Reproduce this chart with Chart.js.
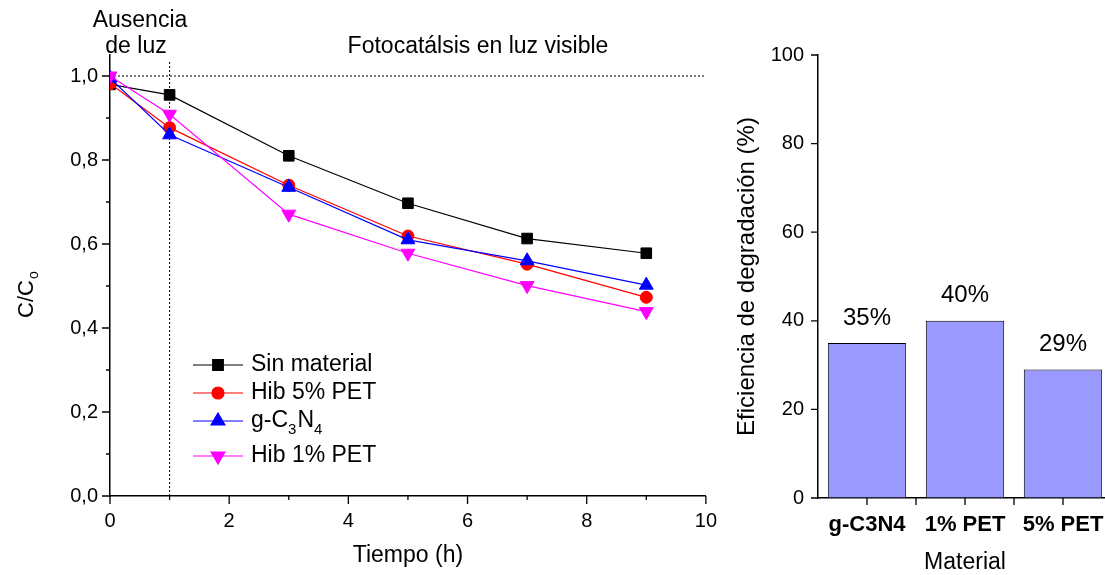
<!DOCTYPE html>
<html>
<head>
<meta charset="utf-8">
<script src="https://cdn.jsdelivr.net/npm/chart.js@4.4.1/dist/chart.umd.min.js"></script>
<style>
  html, body { margin: 0; padding: 0; background: #fff; overflow: hidden; }
  body { width: 1105px; height: 575px; position: relative; }
  #lineChart { position: absolute; left: 0; top: 0; }
  #barChart { position: absolute; left: 730px; top: 0; }
</style>
</head>
<body>
<canvas id="lineChart" width="730" height="575"></canvas>
<canvas id="barChart" width="400" height="575"></canvas>
<script>
const FONT = "'Liberation Sans', Arial, sans-serif";

// cinética: C/Co contra tiempo (h)
const tiempo = [0, 1, 3, 5, 7, 9];
const sinMaterial = [0.980, 0.955, 0.810, 0.697, 0.613, 0.578];
const hib5PET = [0.982, 0.877, 0.740, 0.619, 0.552, 0.473];
const gC3N4 = [0.995, 0.860, 0.735, 0.610, 0.560, 0.502];
const hib1PET = [1.000, 0.909, 0.671, 0.578, 0.501, 0.439];

const xTicks = [0, 2, 4, 6, 8, 10];
const xMinor = [1, 3, 5, 7, 9];
const yTicks = [0, 0.2, 0.4, 0.6, 0.8, 1.0];
const yMinor = [0.1, 0.3, 0.5, 0.7, 0.9];

// eficiencia de degradación por material
const materiales = ["g-C3N4", "1% PET", "5% PET"];
const eficiencia = [35, 40, 29];
const effTicks = [0, 20, 40, 60, 80, 100];

const toXY = ys => tiempo.map((t, i) => ({ x: t, y: ys[i] }));
const comma = v => v.toFixed(1).replace(".", ",");

function drawTicks(chart, id, values, len) {
  const scale = chart.scales[id];
  const ctx = chart.ctx;
  ctx.save();
  ctx.strokeStyle = "#000";
  ctx.lineWidth = 1.3;
  ctx.beginPath();
  values.forEach(v => {
    const p = scale.getPixelForValue(v);
    if (scale.isHorizontal()) {
      ctx.moveTo(p, scale.top);
      ctx.lineTo(p, scale.top + len);
    } else {
      ctx.moveTo(scale.right - len, p);
      ctx.lineTo(scale.right, p);
    }
  });
  ctx.stroke();
  ctx.restore();
}

// C/Co con subíndice, rotado
function drawRotatedSub(ctx, x, y, main, sub, size) {
  ctx.save();
  ctx.translate(x, y);
  ctx.rotate(-Math.PI / 2);
  ctx.fillStyle = "#000";
  ctx.textAlign = "left";
  ctx.textBaseline = "alphabetic";
  ctx.font = size + "px " + FONT;
  const w = ctx.measureText(main).width;
  ctx.fillText(main, 0, 0);
  ctx.font = Math.round(size * 0.65) + "px " + FONT;
  ctx.fillText(sub, w + 1, 5);
  ctx.restore();
}

const series = [
  { label: "Sin material", data: sinMaterial, color: "#000000", style: "rect", radius: 7.5, rotation: 0 },
  { label: "Hib 5% PET", data: hib5PET, color: "#FF0000", style: "circle", radius: 6, rotation: 0 },
  { label: "g-C3N4", data: gC3N4, color: "#0000FF", style: "triangle", radius: 8, rotation: 0 },
  { label: "Hib 1% PET", data: hib1PET, color: "#FF00FF", style: "triangle", radius: 8, rotation: 180 },
];
const legendRows = [365, 393, 421, 456];

const lineDecor = {
  id: "lineDecor",
  beforeDatasetsDraw(chart) {
    const { ctx, scales: { x, y } } = chart;
    ctx.save();
    ctx.strokeStyle = "#000";
    ctx.lineWidth = 1;
    ctx.setLineDash([2, 2]);
    ctx.beginPath();
    ctx.moveTo(x.getPixelForValue(0), y.getPixelForValue(1));
    ctx.lineTo(x.getPixelForValue(10), y.getPixelForValue(1));
    ctx.moveTo(x.getPixelForValue(1), y.getPixelForValue(0));
    ctx.lineTo(x.getPixelForValue(1), y.getPixelForValue(1.035));
    ctx.stroke();
    ctx.restore();
  },
  afterDraw(chart) {
    const { ctx, chartArea } = chart;
    drawTicks(chart, "x", xTicks, 8);
    drawTicks(chart, "x", xMinor, 4);
    drawTicks(chart, "y", yTicks, 8);
    drawTicks(chart, "y", yMinor, 4);

    ctx.save();
    ctx.fillStyle = "#000";
    ctx.textAlign = "center";
    ctx.textBaseline = "middle";
    ctx.font = "23px " + FONT;
    ctx.fillText("Tiempo (h)", (chartArea.left + chartArea.right) / 2, 556);
    ctx.fillText("Ausencia", 140, 21);
    ctx.fillText("de luz", 136, 47);
    ctx.fillText("Fotocatálsis en luz visible", 478, 47);
    ctx.restore();

    drawRotatedSub(ctx, 33, 318, "C/C", "o", 22);

    // leyenda
    series.forEach((s, i) => {
      const yy = legendRows[i];
      ctx.save();
      ctx.strokeStyle = s.color;
      ctx.fillStyle = s.color;
      ctx.lineWidth = 1.2;
      ctx.beginPath();
      ctx.moveTo(193, yy);
      ctx.lineTo(243, yy);
      ctx.stroke();
      Chart.helpers.drawPoint(ctx, { pointStyle: s.style, radius: s.radius, rotation: s.rotation, borderWidth: 1 }, 218, yy);
      ctx.fillStyle = "#000";
      ctx.textBaseline = "middle";
      ctx.textAlign = "left";
      ctx.font = "23px " + FONT;
      if (s.label === "g-C3N4") {
        let px = 251;
        const parts = [["g-C", false], ["3", true], ["N", false], ["4", true]];
        parts.forEach(([t, sub]) => {
          ctx.font = (sub ? "15px " : "23px ") + FONT;
          ctx.fillText(t, px, sub ? yy + 9 : yy);
          px += ctx.measureText(t).width + (sub ? 1 : 0);
        });
      } else {
        ctx.fillText(s.label, 251, yy);
      }
      ctx.restore();
    });
  },
};

new Chart(document.getElementById("lineChart"), {
  type: "line",
  data: {
    datasets: series.map((s, i) => ({
      label: s.label,
      data: toXY(s.data),
      borderColor: s.color,
      backgroundColor: s.color,
      borderWidth: 1.2,
      pointStyle: s.style,
      pointRadius: s.radius,
      pointRotation: s.rotation,
      pointBackgroundColor: s.color,
      pointBorderColor: s.color,
      pointBorderWidth: 1,
      tension: 0,
      fill: false,
      order: series.length - i,
    })),
  },
  options: {
    responsive: false,
    animation: false,
    events: [],
    layout: { padding: { top: 55, right: 21, left: 0, bottom: 0 } },
    plugins: { legend: { display: false }, tooltip: { enabled: false } },
    scales: {
      x: {
        type: "linear",
        min: 0,
        max: 10,
        afterBuildTicks: s => { s.ticks = xTicks.map(v => ({ value: v })); },
        afterFit: s => { s.height = 79; },
        grid: { drawOnChartArea: false, drawTicks: false },
        border: { color: "#000", width: 1.5 },
        ticks: { color: "#000", padding: 13, maxRotation: 0, font: { family: FONT, size: 20 }, callback: v => String(v) },
      },
      y: {
        min: 0,
        max: 1.05,
        afterBuildTicks: s => { s.ticks = yTicks.map(v => ({ value: v })); },
        afterFit: s => { s.width = 110; },
        grid: { drawOnChartArea: false, drawTicks: false },
        border: { color: "#000", width: 1.5 },
        ticks: { color: "#000", padding: 12, font: { family: FONT, size: 20 }, callback: v => comma(v) },
      },
    },
  },
  plugins: [lineDecor],
});

const barDecor = {
  id: "barDecor",
  afterDraw(chart) {
    const { ctx, chartArea } = chart;
    drawTicks(chart, "y", effTicks, 7);
    drawTicks(chart, "x", [0, 0.5, 1, 1.5, 2, 2.5], 7);

    ctx.save();
    ctx.fillStyle = "#000";
    ctx.textAlign = "center";
    ctx.textBaseline = "middle";
    ctx.font = "24px " + FONT;
    chart.getDatasetMeta(0).data.forEach((bar, i) => {
      ctx.fillText(eficiencia[i] + "%", bar.x, bar.y - 25);
    });
    ctx.font = "23px " + FONT;
    ctx.fillText("Material", (chartArea.left + chartArea.right) / 2, 563);
    ctx.translate(17, (chartArea.top + chartArea.bottom) / 2);
    ctx.rotate(-Math.PI / 2);
    ctx.font = "24px " + FONT;
    ctx.fillText("Eficiencia de degradación (%)", 0, 0);
    ctx.restore();
  },
};

new Chart(document.getElementById("barChart"), {
  type: "bar",
  data: {
    labels: materiales,
    datasets: [{
      data: eficiencia,
      backgroundColor: "#9999FF",
      borderColor: "#000000",
      borderWidth: 1,
      borderSkipped: "bottom",
      barPercentage: 0.8,
      categoryPercentage: 1.0,
    }],
  },
  options: {
    responsive: false,
    animation: false,
    events: [],
    layout: { padding: { top: 55, right: 18, left: 0, bottom: 0 } },
    plugins: { legend: { display: false }, tooltip: { enabled: false } },
    scales: {
      x: {
        afterFit: s => { s.height = 77; },
        grid: { drawOnChartArea: false, drawTicks: false },
        border: { color: "#000", width: 1.5 },
        ticks: { color: "#000", padding: 14, maxRotation: 0, font: { family: FONT, size: 22, weight: "bold" } },
      },
      y: {
        min: 0,
        max: 100,
        afterBuildTicks: s => { s.ticks = effTicks.map(v => ({ value: v })); },
        afterFit: s => { s.width = 88; },
        grid: { drawOnChartArea: false, drawTicks: false },
        border: { color: "#000", width: 1.5 },
        ticks: { color: "#000", padding: 14, font: { family: FONT, size: 20 } },
      },
    },
  },
  plugins: [barDecor],
});
</script>
</body>
</html>
